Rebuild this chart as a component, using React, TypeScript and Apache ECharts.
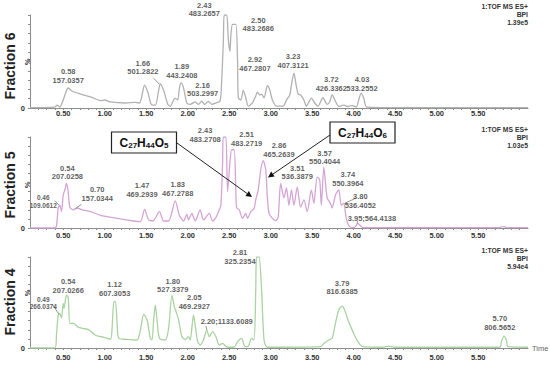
import React, { useEffect, useRef } from "react";
import * as echarts from "echarts";

const FONT = '"Liberation Sans", Arial, sans-serif';

// Retention time (min) vs. relative intensity (%)
const fraction6: number[][] = [
  [0.10, 0.5], [0.40, 1], [0.43, 3], [0.46, 1], [0.50, 8.6], [0.54, 19], [0.56, 21.5], [0.61, 18], [0.71, 15],
  [0.83, 12], [0.95, 8], [1.00, 8.6], [1.07, 6.5], [1.25, 5.4], [1.37, 6], [1.42, 5.4], [1.45, 14], [1.48, 24.7],
  [1.52, 17], [1.56, 4], [1.61, 3], [1.65, 19], [1.67, 26], [1.71, 19], [1.76, 4], [1.79, 2], [1.83, 8.6],
  [1.85, 10.7], [1.88, 8.6], [1.90, 21.5], [1.92, 27], [1.95, 21.5], [1.99, 5.4], [2.03, 4], [2.09, 6.5],
  [2.13, 3.8], [2.17, 7.5], [2.20, 4], [2.25, 7], [2.29, 4], [2.34, 5.4], [2.39, 7.5], [2.41, 30], [2.43, 73],
  [2.44, 100], [2.47, 100], [2.49, 73], [2.51, 61], [2.52, 78], [2.54, 90], [2.58, 90], [2.60, 52], [2.61, 11],
  [2.64, 8.6], [2.67, 19], [2.70, 11], [2.73, 2], [2.78, 5.4], [2.82, 13], [2.84, 17], [2.87, 14], [2.89, 15],
  [2.92, 11], [2.96, 24], [2.99, 19], [3.02, 8.6], [3.07, 2], [3.15, 2], [3.19, 8.6], [3.23, 14], [3.25, 25],
  [3.28, 37.6], [3.30, 28], [3.33, 15], [3.36, 14], [3.40, 8.6], [3.43, 2], [3.49, 10.7], [3.53, 5.4], [3.57, 2],
  [3.63, 11], [3.68, 4], [3.71, 6.5], [3.74, 14], [3.79, 5.4], [3.82, 1.6], [3.88, 3], [3.93, 1.6], [3.98, 2.7],
  [4.03, 1], [4.06, 8.6], [4.09, 16], [4.12, 10.7], [4.16, 1], [4.57, 0.5], [6.10, 0.5],
];

const fraction5: number[][] = [
  [0.10, 0], [0.40, 0], [0.42, 3], [0.44, 22], [0.46, 25], [0.48, 18], [0.50, 36], [0.52, 42], [0.54, 49],
  [0.56, 40], [0.58, 23], [0.62, 20], [0.67, 22], [0.73, 20], [0.83, 18], [0.95, 14], [1.15, 10.6], [1.35, 7.7],
  [1.43, 7], [1.48, 20.5], [1.53, 8.8], [1.58, 7.7], [1.66, 18], [1.71, 7.7], [1.77, 7.7], [1.85, 29.7],
  [1.90, 14], [1.95, 7.7], [1.99, 15], [2.01, 9], [2.05, 16], [2.09, 7.7], [2.15, 20], [2.19, 9], [2.26, 16],
  [2.30, 7.7], [2.34, 11.6], [2.38, 20], [2.40, 25], [2.42, 70], [2.43, 100], [2.46, 100], [2.48, 40],
  [2.51, 73], [2.53, 86], [2.56, 86], [2.58, 40], [2.59, 22], [2.62, 20], [2.66, 10.6], [2.70, 16], [2.72, 10.6],
  [2.76, 18], [2.80, 21.6], [2.82, 31], [2.85, 42], [2.88, 64], [2.91, 74], [2.94, 64], [2.96, 34], [2.98, 16],
  [3.02, 10.6], [3.06, 8], [3.09, 12], [3.12, 49], [3.16, 33], [3.19, 44], [3.22, 25], [3.25, 42], [3.28, 25],
  [3.32, 45], [3.36, 23], [3.40, 31], [3.44, 18], [3.49, 42], [3.52, 27], [3.56, 56], [3.59, 53], [3.61, 25],
  [3.64, 67], [3.68, 33], [3.72, 27], [3.74, 22], [3.78, 36], [3.82, 42], [3.85, 25], [3.88, 27], [3.91, 10.6],
  [3.95, 1.5], [4.01, 0.5], [4.05, 5], [4.11, 0.5], [5.75, 0.5], [5.80, 1.5], [5.85, 0.5], [6.10, 0.5],
];

const fraction4: number[][] = [
  [0.10, 0], [0.40, 0], [0.42, 16], [0.44, 36], [0.46, 38], [0.48, 33], [0.50, 49], [0.51, 43.6], [0.54, 58],
  [0.56, 56], [0.58, 27], [0.62, 27], [0.68, 23], [0.73, 21.6], [0.81, 20], [0.89, 14], [0.99, 11.7], [1.07, 9.5],
  [1.09, 23], [1.11, 51], [1.13, 51], [1.15, 27], [1.17, 10.6], [1.27, 9.5], [1.39, 8.8], [1.43, 20], [1.47, 37],
  [1.51, 31], [1.55, 10.6], [1.57, 8.8], [1.59, 31], [1.61, 47], [1.63, 31], [1.66, 10.6], [1.73, 8.8],
  [1.77, 21.6], [1.81, 58], [1.84, 45], [1.86, 40], [1.89, 31], [1.93, 12.4], [1.97, 9.5], [2.01, 12.4],
  [2.03, 8.8], [2.07, 36], [2.09, 25], [2.12, 7], [2.15, 3.3], [2.19, 8.8], [2.23, 20], [2.26, 12.4], [2.30, 18],
  [2.34, 12.4], [2.38, 3.3], [2.42, 5], [2.48, 0.8], [2.56, 0.8], [2.60, 7], [2.65, 10.6], [2.69, 1.5], [2.73, 2],
  [2.77, 10.6], [2.80, 8.8], [2.82, 64], [2.83, 100], [2.86, 100], [2.89, 64], [2.92, 8.8], [2.96, 0.8],
  [3.60, 1.5], [3.64, 5], [3.70, 8.8], [3.74, 10.6], [3.78, 27], [3.82, 42], [3.86, 46], [3.89, 42], [3.93, 31],
  [3.99, 18], [4.05, 7], [4.11, 1.5], [4.35, 0.8], [4.42, 2], [4.49, 0.8], [5.76, 0.8], [5.78, 7], [5.81, 13],
  [5.84, 8.8], [5.86, 1.5], [6.10, 0.8],
];

// Peak annotations: [time, intensity %, text]
const labels6: [number, number, string][] = [
  [0.56, 34.4, "0.58\n157.0357"],
  [1.46, 43.5, "1.66\n501.2822"],
  [1.93, 39.8, "1.89\n443.2408"],
  [2.18, 19.9, "2.16\n503.2997"],
  [2.20, 105.9, "2.43\n483.2657"],
  [2.85, 89.8, "2.50\n483.2686"],
  [2.81, 47.3, "2.92\n467.2807"],
  [3.27, 50.5, "3.23\n407.3121"],
  [3.73, 25.8, "3.72\n426.3362"],
  [4.10, 25.8, "4.03\n533.2552"],
];
const labels5: [number, number, string][] = [
  [0.55, 61, "0.54\n207.0258"],
  [0.91, 37.4, "0.70\n157.0344"],
  [1.45, 41.8, "1.47\n469.2939"],
  [1.88, 42.9, "1.83\n467.2788"],
  [2.21, 102.2, "2.43\n483.2708"],
  [2.71, 97.8, "2.51\n483.2719"],
  [3.10, 85.7, "2.86\n465.2639"],
  [3.32, 61, "3.51\n536.3879"],
  [3.65, 77.5, "3.57\n550.4044"],
  [3.93, 53.8, "3.74\n550.3964"],
  [4.08, 29.7, "3.80\n536.4052"],
  [4.22, 9.9, "3.95;564.4138"],
];
const labels5Small: [number, number, string][] = [[0.26, 29.1, "0.46\n109.0612"]];
const labels4: [number, number, string][] = [
  [0.56, 68.1, "0.54\n207.0266"],
  [1.12, 64.8, "1.12\n607.3053"],
  [1.82, 68.7, "1.80\n527.3379"],
  [2.08, 50.5, "2.05\n469.2927"],
  [2.47, 28.6, "2.20;1133.6089"],
  [2.63, 100, "2.81\n325.2354"],
  [3.86, 66.5, "3.79\n816.6385"],
  [5.76, 27.5, "5.70\n806.5652"],
];
const labels4Small: [number, number, string][] = [[0.26, 49.5, "0.49\n266.0374"]];

// Leader lines from annotation to peak: [[t1, y1], [t2, y2]]
const leaders6: number[][][] = [[[1.59, 32], [1.66, 25.5]]];
const leaders5: number[][][] = [
  [[0.40, 30], [0.45, 25]],
  [[0.72, 26], [0.65, 21.5]],
  [[4.03, 33], [3.89, 27]],
  [[4.05, 8], [4.04, 5]],
];
const leaders4: number[][][] = [
  [[0.37, 48], [0.45, 37]],
  [[2.22, 24], [2.23, 20]],
];

const xTickLabels = [0.5, 1.0, 1.5, 2.0, 2.5, 3.0, 3.5, 4.0, 4.5, 5.0, 5.5];
const xTickMarks = [
  0.2, 0.3, 0.4, 0.5, 0.6, 0.7, 0.8, 0.9, 1.0, 1.1, 1.2, 1.3, 1.4, 1.5, 1.6, 1.7, 1.8, 1.9, 2.0, 2.1, 2.2, 2.3,
  2.4, 2.5, 2.6, 2.7, 2.8, 2.9, 3.0, 3.1, 3.2, 3.3, 3.4, 3.5, 3.6, 3.7, 3.8, 3.9, 4.0, 4.1, 4.2, 4.3, 4.4, 4.5,
  4.6, 4.7, 4.8, 4.9, 5.0, 5.1, 5.2, 5.3, 5.4, 5.5, 5.6, 5.7, 5.8, 5.9, 6.0,
];

const fractionNames = ["Fraction 6", "Fraction 5", "Fraction 4"];
const infoTexts = [
  ["1:TOF MS ES+", "BPI", "1.39e5"],
  ["1:TOF MS ES+", "BPI", "1.03e5"],
  ["1:TOF MS ES+", "BPI", "5.94e4"],
];

export default function App() {
  const ref = useRef<HTMLDivElement>(null);

  useEffect(() => {
    document.body.style.margin = "0";
    if (!ref.current) return;
    const chart = echarts.init(ref.current, null, { renderer: "svg" });

    const gridTops = [15, 137, 257];
    const gridHeights = [93, 91, 91];
    const labelMargins = [1, 3, 5];
    const colors = ["#b1b1b1", "#d4a5d4", "#a9d3a0"];
    const datasets = [fraction6, fraction5, fraction4];
    const labelSets = [labels6, labels5, labels4];
    const smallSets: [number, number, string][][] = [[], labels5Small, labels4Small];
    const leaderSets = [leaders6, leaders5, leaders4];
    const titleY = [66, 185, 302];
    const percentY = [62, 185, 293];
    const infoY = [6.5, 129.5, 250.5];

    const axisColor = "#8c8c8c";

    const labelSeries = (i: number, set: [number, number, string][], size: number) => ({
      type: "scatter",
      xAxisIndex: i,
      yAxisIndex: i,
      data: set.map((l) => ({ value: [l[0], l[1]], name: l[2] })),
      symbolSize: 0,
      clip: false,
      silent: true,
      z: 5,
      itemStyle: { color: "#333" },
      label: {
        show: true,
        position: "inside",
        formatter: (p: any) =>
          String(p.name)
            .split("\n")
            .map((s: string) => `{t|${s}}`)
            .join("\n"),
        rich: {
          t: {
            fontSize: size,
            fontWeight: "bold",
            color: "#333",
            fontFamily: FONT,
            lineHeight: size + 1,
          },
        },
        color: "#333",
        textBorderWidth: 0,
      },
    });

    const series: any[] = [];
    datasets.forEach((d, i) => {
      series.push({
        type: "line",
        xAxisIndex: i,
        yAxisIndex: i,
        data: d,
        showSymbol: false,
        symbol: "none",
        smooth: 0.25,
        lineStyle: { color: colors[i], width: 1.3 },
        silent: true,
        z: 3,
      });
      series.push({
        type: "lines",
        coordinateSystem: "cartesian2d",
        xAxisIndex: i,
        yAxisIndex: i,
        data: leaderSets[i].map((seg) => ({ coords: seg })),
        lineStyle: { color: "#777", width: 0.8, opacity: 1 },
        silent: true,
        z: 4,
      });
      series.push(labelSeries(i, labelSets[i], 7.5));
      if (smallSets[i].length) series.push(labelSeries(i, smallSets[i], 6.5));
    });

    const graphic: any[] = [];
    fractionNames.forEach((t, i) => {
      graphic.push({
        type: "text",
        x: 10,
        y: titleY[i],
        rotation: Math.PI / 2,
        style: {
          text: t,
          align: "center",
          verticalAlign: "middle",
          fontSize: 14,
          fontWeight: "bold",
          fontFamily: FONT,
          fill: "#222",
        },
      });
      graphic.push({
        type: "text",
        x: 27,
        y: percentY[i],
        rotation: Math.PI / 2,
        style: {
          text: "%",
          align: "center",
          verticalAlign: "middle",
          fontSize: 7.5,
          fontWeight: "bold",
          fontFamily: FONT,
          fill: "#333",
        },
      });
      infoTexts[i].forEach((line, k) => {
        graphic.push({
          type: "text",
          x: 528,
          y: infoY[i] + k * 7.8,
          style: {
            text: line,
            align: "right",
            verticalAlign: "middle",
            fontSize: 6.8,
            fontWeight: "bold",
            fontFamily: FONT,
            fill: "#333",
          },
        });
      });
    });

    const formulaBox = (x: number, y: number, sub: string) => [
      {
        type: "rect",
        shape: { x, y, width: 65, height: 21 },
        style: { fill: "#fff", stroke: "#222", lineWidth: 1.2 },
        z: 10,
      },
      {
        type: "text",
        x: x + 32.5,
        y: y + 10.5,
        z: 11,
        style: {
          text: `{n|C}{s|27}{n|H}{s|44}{n|O}{s|${sub}}`,
          align: "center",
          verticalAlign: "middle",
          rich: {
            n: { fontSize: 12, fontWeight: "bold", fontFamily: FONT, fill: "#111", lineHeight: 14 },
            s: { fontSize: 8, fontWeight: "bold", fontFamily: FONT, fill: "#111", lineHeight: 7, verticalAlign: "bottom" },
          },
        },
      },
    ];
    graphic.push(...formulaBox(111.5, 132, "5"));
    graphic.push(...formulaBox(330, 122, "6"));
    graphic.push(
      { type: "line", shape: { x1: 177, y1: 143, x2: 247.5, y2: 193.8 }, style: { stroke: "#222", lineWidth: 1 }, z: 10 },
      { type: "polygon", shape: { points: [[252, 197], [245.4, 195.9], [248.9, 191.0]] }, style: { fill: "#111" }, z: 10 },
      { type: "line", shape: { x1: 330, y1: 135, x2: 272.5, y2: 174.4 }, style: { stroke: "#222", lineWidth: 1 }, z: 10 },
      { type: "polygon", shape: { points: [[268, 177.5], [271.2, 171.6], [274.6, 176.6]] }, style: { fill: "#111" }, z: 10 }
    );

    const option: any = {
      animation: false,
      backgroundColor: "#fff",
      textStyle: { fontFamily: FONT },
      grid: gridTops.map((t, i) => ({ left: 30, width: 498, top: t, height: gridHeights[i] })),
      xAxis: gridTops.map((_, i) => ({
        type: "value",
        gridIndex: i,
        min: 0.1,
        max: 6.1,
        axisLine: { show: true, onZero: false, lineStyle: { color: axisColor, width: 1 } },
        axisTick: { show: true, customValues: xTickMarks, length: 2, lineStyle: { color: axisColor } },
        axisLabel: {
          show: true,
          customValues: xTickLabels,
          formatter: (v: number) => v.toFixed(2),
          fontSize: 7.5,
          fontWeight: "bold",
          color: "#333",
          margin: labelMargins[i],
          fontFamily: FONT,
        },
        splitLine: { show: false },
        name: i === 2 ? "Time" : "",
        nameLocation: "end",
        nameGap: 4,
        nameTextStyle: { fontSize: 7.5, color: "#666", fontFamily: FONT, align: "left", verticalAlign: "middle" },
      })),
      yAxis: gridTops.map((_, i) => ({
        type: "value",
        gridIndex: i,
        min: 0,
        max: 100,
        interval: 10,
        axisLine: { show: true, lineStyle: { color: axisColor, width: 1 } },
        axisTick: { show: true, length: 2, lineStyle: { color: axisColor } },
        axisLabel: {
          formatter: (v: number) => (v === 0 ? "0" : ""),
          fontSize: 7.5,
          fontWeight: "bold",
          color: "#333",
          margin: 5,
          fontFamily: FONT,
        },
        splitLine: { show: false },
      })),
      series,
      graphic,
    };

    chart.setOption(option);
    return () => chart.dispose();
  }, []);

  return <div ref={ref} style={{ width: 550, height: 365 }} />;
}
